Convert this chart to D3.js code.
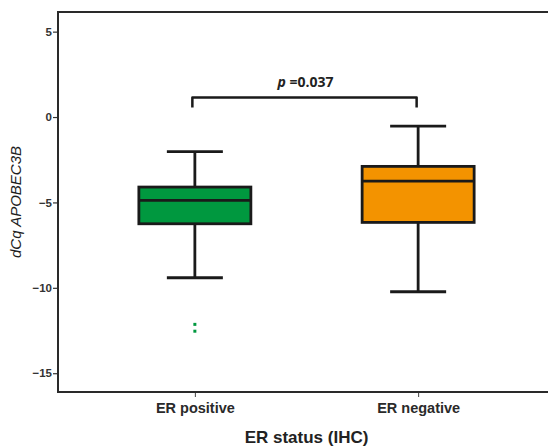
<!DOCTYPE html>
<html><head><meta charset="utf-8">
<script src="https://cdn.jsdelivr.net/npm/d3@7"></script>
<style>body{margin:0;background:#fff}svg{display:block}</style>
</head><body>
<svg id="c" width="548" height="447"></svg>
<script>
const categories = ["ER positive", "ER negative"];
const whiskerLow = [-9.41, -10.23];
const q1 = [-6.25, -6.17];
const median = [-4.88, -3.75];
const q3 = [-4.10, -2.89];
const whiskerHigh = [-2.03, -0.53];
const outliers = [[-12.14, -12.54], []];
const colors = ["#00983f", "#f39300"];
const yTicks = [5, 0, -5, -10, -15];
const pLabel = "=0.037";
const bracketY = 1.15;

(function () {
const svg = d3.select("#c");
const mLeft = 58, mRight = 555, mTop = 12, mBottom = 392;
const y = d3.scaleLinear().domain([-16.1, 6.15]).range([mBottom, mTop]);
const x = d3.scalePoint().domain(categories).range([mLeft, mRight]).padding(0.613);
const boxW = 112, capW = 56;
const ink = "#1a1a1a";

// frame
svg.append("line").attr("x1", mLeft).attr("x2", 548).attr("y1", mTop).attr("y2", mTop)
  .attr("stroke", "#2a2a2a").attr("stroke-width", 2);

const yAxis = svg.append("g").attr("transform", `translate(${mLeft},0)`)
  .call(d3.axisLeft(y).tickValues(yTicks).tickSize(5).tickFormat(d3.format("d")));
yAxis.select(".domain").remove();
yAxis.append("line").attr("x1", 0).attr("x2", 0).attr("y1", mTop - 1).attr("y2", mBottom + 1)
  .attr("stroke", "#2a2a2a").attr("stroke-width", 2);
yAxis.selectAll(".tick line").attr("stroke", "#333").attr("stroke-width", 1.2);
yAxis.selectAll(".tick text").attr("font-family", "Liberation Sans, Arial, sans-serif")
  .attr("font-size", 11.5).attr("font-weight", "bold").attr("fill", "#333").attr("x", -6);

const xAxis = svg.append("g").attr("transform", `translate(0,${mBottom})`)
  .call(d3.axisBottom(x).tickSize(5).tickSizeOuter(0));
xAxis.select(".domain").remove();
xAxis.append("line").attr("x1", mLeft - 1).attr("x2", 548).attr("y1", 0).attr("y2", 0)
  .attr("stroke", "#2a2a2a").attr("stroke-width", 2);
xAxis.selectAll(".tick line").attr("stroke", "#444").attr("stroke-width", 1);
xAxis.selectAll(".tick text").attr("font-family", "Liberation Sans, Arial, sans-serif")
  .attr("font-size", 14.5).attr("font-weight", "bold").attr("fill", "#2a2a2a").attr("y", 11);

// axis titles
svg.append("text").attr("transform", `translate(21,${(mTop + mBottom) / 2}) rotate(-90)`)
  .attr("text-anchor", "middle").attr("font-family", "Liberation Sans, Arial, sans-serif")
  .attr("font-size", 15).attr("font-style", "italic").attr("fill", "#1e1e1e").text("dCq APOBEC3B");
svg.append("text").attr("x", (mLeft + mRight) / 2).attr("y", 443).attr("text-anchor", "middle")
  .attr("font-family", "Liberation Sans, Arial, sans-serif").attr("font-size", 17)
  .attr("font-weight", "bold").attr("fill", "#222").text("ER status (IHC)");

// boxes
categories.forEach((c, i) => {
  const cx = x(c);
  const g = svg.append("g");
  g.append("line").attr("x1", cx).attr("x2", cx).attr("y1", y(whiskerHigh[i])).attr("y2", y(q3[i]))
    .attr("stroke", ink).attr("stroke-width", 2.8);
  g.append("line").attr("x1", cx).attr("x2", cx).attr("y1", y(q1[i])).attr("y2", y(whiskerLow[i]))
    .attr("stroke", ink).attr("stroke-width", 2.8);
  [whiskerHigh[i], whiskerLow[i]].forEach(v => {
    g.append("line").attr("x1", cx - capW / 2).attr("x2", cx + capW / 2).attr("y1", y(v)).attr("y2", y(v))
      .attr("stroke", ink).attr("stroke-width", 2.8);
  });
  g.append("rect").attr("x", cx - boxW / 2).attr("width", boxW)
    .attr("y", y(q3[i])).attr("height", y(q1[i]) - y(q3[i]))
    .attr("fill", colors[i]).attr("stroke", ink).attr("stroke-width", 2.8);
  g.append("line").attr("x1", cx - boxW / 2).attr("x2", cx + boxW / 2).attr("y1", y(median[i])).attr("y2", y(median[i]))
    .attr("stroke", ink).attr("stroke-width", 2.8);
  outliers[i].forEach(v => {
    g.append("rect").attr("x", cx - 1.5).attr("y", y(v) - 1.5).attr("width", 3).attr("height", 3)
      .attr("fill", colors[i]);
  });
});

// significance bracket
const bx1 = x(categories[0]) - 2.5, bx2 = x(categories[1]) - 1.5, by = y(bracketY);
svg.append("path")
  .attr("d", `M${bx1},${by + 10}V${by}H${bx2}V${by + 10}`)
  .attr("fill", "none").attr("stroke", ink).attr("stroke-width", 2.5).attr("stroke-linejoin", "round");
const pt = svg.append("text").attr("x", (bx1 + bx2) / 2 + 1).attr("y", by - 10).attr("text-anchor", "middle")
  .attr("font-family", "Open Sans, Liberation Sans, sans-serif").attr("font-size", 14)
  .attr("font-weight", "bold").attr("fill", "#222");
pt.append("tspan").attr("font-style", "italic").text("p");
pt.append("tspan").text(" " + pLabel);
})();
</script>
</body></html>
